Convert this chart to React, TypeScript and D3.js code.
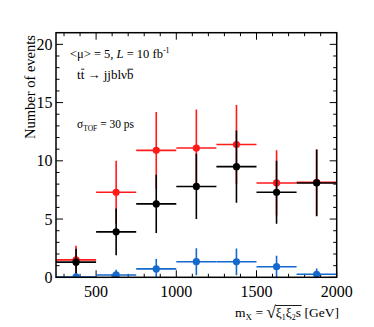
import React, { useEffect, useRef } from "react";
import * as d3 from "d3";

const binCenters = [375, 625, 875, 1125, 1375, 1625, 1875];
const binHalfWidth = 125;

const redValues = [1.5, 7.3, 10.9, 11.1, 11.4, 8.1, 8.15];
const redErrors = [1.2, 2.7, 3.3, 3.3, 3.4, 2.8, 2.85];
const blackValues = [1.3, 3.9, 6.3, 7.8, 9.5, 7.3, 8.1];
const blackErrors = [1.15, 2.0, 2.5, 2.8, 3.1, 2.7, 2.85];
const blueValues = [0.03, 0.2, 0.72, 1.34, 1.33, 0.91, 0.26];
const blueErrors = [0, 0.45, 0.85, 1.16, 1.15, 0.93, 0.5];

const xTicks = [500, 1000, 1500, 2000];
const yTicks = [0, 5, 10, 15, 20];

export default function App() {
  const svgRef = useRef<SVGSVGElement | null>(null);

  useEffect(() => {
    const width = 374;
    const height = 327;
    const margin = { top: 32.7, right: 37.3, bottom: 49.7, left: 56 };
    const font = "'Liberation Serif', 'Times New Roman', serif";

    d3.select(svgRef.current).selectAll("*").remove();
    const svg = d3
      .select(svgRef.current)
      .attr("width", width)
      .attr("height", height);

    const x = d3
      .scaleLinear()
      .domain([250, 2000])
      .range([margin.left, width - margin.right]);
    const y = d3
      .scaleLinear()
      .domain([0, 21])
      .range([height - margin.bottom, margin.top]);

    const x0 = x.range()[0], x1 = x.range()[1];
    const y0 = y.range()[0], y1 = y.range()[1];

    svg
      .append("defs")
      .append("clipPath")
      .attr("id", "frame")
      .append("rect")
      .attr("x", x0)
      .attr("y", y1)
      .attr("width", x1 - x0)
      .attr("height", y0 - y1);

    // ticks on all four sides, pointing inwards
    const ticks = svg.append("g").attr("stroke", "#000").attr("stroke-width", 1);
    d3.range(300, 2001, 100).forEach((v) => {
      const len = v % 500 === 0 ? 7 : 3.5;
      ticks.append("line").attr("x1", x(v)).attr("x2", x(v)).attr("y1", y0).attr("y2", y0 - len);
      ticks.append("line").attr("x1", x(v)).attr("x2", x(v)).attr("y1", y1).attr("y2", y1 + len);
    });
    d3.range(0, 21, 1).forEach((v) => {
      const len = v % 5 === 0 ? 7 : 3.5;
      ticks.append("line").attr("x1", x0).attr("x2", x0 + len).attr("y1", y(v)).attr("y2", y(v));
      ticks.append("line").attr("x1", x1).attr("x2", x1 - len).attr("y1", y(v)).attr("y2", y(v));
    });

    // tick labels
    svg
      .selectAll(".xl")
      .data(xTicks)
      .enter()
      .append("text")
      .attr("x", (d) => x(d))
      .attr("y", 297)
      .attr("text-anchor", "middle")
      .style("font-family", font)
      .style("font-size", "16px")
      .text((d) => d);
    svg
      .selectAll(".yl")
      .data(yTicks)
      .enter()
      .append("text")
      .attr("x", 52.5)
      .attr("y", (d) => y(d) + 5.5)
      .attr("text-anchor", "end")
      .style("font-family", font)
      .style("font-size", "16px")
      .text((d) => d);

    // series
    const plot = svg.append("g").attr("clip-path", "url(#frame)");
    const drawSeries = (vals: number[], errs: number[], color: string) => {
      const g = plot.append("g").attr("stroke", color).attr("fill", color);
      vals.forEach((v, i) => {
        const c = binCenters[i];
        g.append("line")
          .attr("x1", x(c - binHalfWidth))
          .attr("x2", x(c + binHalfWidth))
          .attr("y1", y(v))
          .attr("y2", y(v))
          .attr("stroke-width", 1.6);
        if (errs[i] > 0) {
          g.append("line")
            .attr("x1", x(c))
            .attr("x2", x(c))
            .attr("y1", y(v - errs[i]))
            .attr("y2", y(v + errs[i]))
            .attr("stroke-width", 1.6);
        }
        g.append("circle")
          .attr("cx", x(c))
          .attr("cy", y(v))
          .attr("r", 3.6)
          .attr("stroke", "none");
      });
    };
    drawSeries(redValues, redErrors, "#ff1a1a");
    drawSeries(blackValues, blackErrors, "#000000");
    drawSeries(blueValues, blueErrors, "#1469cc");

    // frame
    svg
      .append("rect")
      .attr("x", x0)
      .attr("y", y1)
      .attr("width", x1 - x0)
      .attr("height", y0 - y1)
      .attr("fill", "none")
      .attr("stroke", "#000")
      .attr("stroke-width", 1.5);

    // overline helper: draws a bar above a tspan's box
    const bar = (node: any, x2Node?: any, topY?: number) => {
      const b = node.getBBox();
      const e = x2Node ? x2Node.getBBox() : b;
      svg
        .append("line")
        .attr("x1", b.x + 0.5)
        .attr("x2", e.x + e.width - 0.3)
        .attr("y1", topY ?? b.y + 2.2)
        .attr("y2", topY ?? b.y + 2.2)
        .attr("stroke", "#000")
        .attr("stroke-width", 0.9);
    };

    // axis titles
    svg
      .append("text")
      .attr("transform", "rotate(-90)")
      .attr("x", -87)
      .attr("y", 35)
      .attr("text-anchor", "middle")
      .style("font-family", font)
      .style("font-size", "14.5px")
      .text("Number of events");

    const xl = svg
      .append("text")
      .attr("x", 235)
      .attr("y", 317)
      .style("font-family", font)
      .style("font-size", "13.5px");
    xl.append("tspan").text("m");
    xl.append("tspan").attr("dy", 3).style("font-size", "9px").text("X");
    xl.append("tspan").attr("dy", -3).text(" = ");
    const root = xl.append("tspan").style("font-size", "17px").attr("dy", 1).text("\u221A");
    const xi1 = xl.append("tspan").attr("dy", -1).text("\u03BE");
    xl.append("tspan").attr("dy", 3).style("font-size", "8px").text("1");
    xl.append("tspan").attr("dy", -3).text("\u03BE");
    xl.append("tspan").attr("dy", 3).style("font-size", "8px").text("2");
    const sNode = xl.append("tspan").attr("dy", -3).text("s");
    xl.append("tspan").text(" [GeV]");
    {
      const rb = (root.node() as any).getBBox();
      const sb = (sNode.node() as any).getBBox();
      const topY = rb.y + 2.5;
      svg
        .append("line")
        .attr("x1", rb.x + rb.width - 1)
        .attr("x2", sb.x + sb.width + 0.5)
        .attr("y1", topY)
        .attr("y2", topY)
        .attr("stroke", "#000")
        .attr("stroke-width", 0.9);
      void xi1;
    }

    // annotations
    const t1 = svg
      .append("text")
      .attr("x", 70)
      .attr("y", 58)
      .style("font-family", font)
      .style("font-size", "12.5px");
    t1.append("tspan").text("<\u03BC> = 5, ");
    t1.append("tspan").style("font-style", "italic").text("L");
    t1.append("tspan").text(" = 10 fb");
    t1.append("tspan").attr("dy", -5).style("font-size", "8px").text("-1");

    const t2 = svg
      .append("text")
      .attr("x", 77)
      .attr("y", 79)
      .style("font-family", font)
      .style("font-size", "13px");
    t2.append("tspan").text("t");
    const tbar = t2.append("tspan").text("t");
    t2.append("tspan").text(" \u2192 jjbl\u03BD");
    const bbar = t2.append("tspan").text("b");
    bar(tbar.node());
    bar(bbar.node());

    const t3 = svg
      .append("text")
      .attr("x", 77)
      .attr("y", 128)
      .style("font-family", font)
      .style("font-size", "11.5px");
    t3.append("tspan").text("\u03C3");
    t3.append("tspan").attr("dy", 2.5).style("font-size", "7.5px").text("TOF");
    t3.append("tspan").attr("dy", -2.5).text(" = 30 ps");
  }, []);

  return (
    <svg
      ref={svgRef}
      style={{ position: "absolute", left: 0, top: 0, background: "#fff" }}
    ></svg>
  );
}
